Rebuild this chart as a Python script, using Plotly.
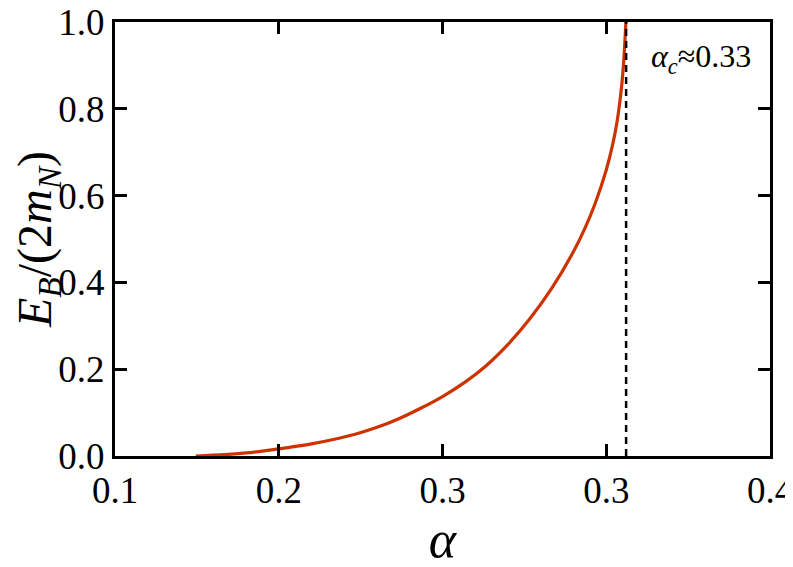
"""
结合能随耦合常数 alpha 的变化曲线
"""
import plotly.graph_objects as go

# 曲线数据
alpha = [0.137, 0.15, 0.16, 0.17, 0.18, 0.19, 0.20, 0.21, 0.22, 0.23,
         0.24, 0.25, 0.26, 0.27, 0.28, 0.29, 0.30, 0.31, 0.315, 0.32,
         0.325, 0.328, 0.330, 0.332, 0.333, 0.334]
eb = [0.0, 0.003, 0.007, 0.013, 0.020, 0.028, 0.038, 0.050, 0.066, 0.086,
      0.110, 0.137, 0.169, 0.208, 0.257, 0.316, 0.386, 0.471, 0.522, 0.583,
      0.659, 0.719, 0.772, 0.850, 0.910, 1.0]

# 临界值
alpha_c = 0.3341

# 刻度
x_tickvals = [0.1, 0.175, 0.25, 0.325, 0.4]
x_ticktext = ["0.1", "0.2", "0.3", "0.3", "0.4"]
y_tickvals = [0.0, 0.2, 0.4, 0.6, 0.8, 1.0]
y_ticktext = ["0.0", "0.2", "0.4", "0.6", "0.8", "1.0"]

SERIF = "Liberation Serif"

fig = go.Figure()

fig.add_trace(go.Scatter(
    x=alpha, y=eb, mode="lines",
    line=dict(color="#CC3300", width=3.2, shape="spline", smoothing=1.0),
    showlegend=False,
))

# 竖直虚线 alpha_c
fig.add_trace(go.Scatter(
    x=[alpha_c, alpha_c], y=[0, 1], mode="lines",
    line=dict(color="black", width=2.5, dash="7px,5px"),
    showlegend=False,
))

fig.add_annotation(
    x=0.974, y=0.917, xref="paper", yref="paper",
    xanchor="right", yanchor="middle", showarrow=False,
    text="<i>α<sub>c</sub></i>≈0.33",
    font=dict(family=SERIF, size=32, color="black"),
)

axis_style = dict(
    showline=True, linecolor="black", linewidth=3, mirror="ticks",
    ticks="inside", ticklen=12, tickwidth=3, tickcolor="black",
    showgrid=False, zeroline=False, automargin=False,
    ticklabeloverflow="allow",
    tickfont=dict(family=SERIF, size=37, color="black"),
)

# 页面有 8px 的边距，这里把绘图区往左上挪一点
fig.update_layout(
    width=793, height=567,
    template="plotly_white",
    plot_bgcolor="white", paper_bgcolor="white",
    font=dict(family=SERIF, color="black"),
    margin=dict(l=107, r=31, t=14, b=119),
    xaxis=dict(
        range=[0.1, 0.4], tickvals=x_tickvals, ticktext=x_ticktext,
        title=dict(text="<i>α</i>", font=dict(family=SERIF, size=52, color="black"),
                   standoff=4),
        **axis_style,
    ),
    yaxis=dict(
        range=[0, 1], tickvals=y_tickvals, ticktext=y_ticktext,
        title=dict(text="<i>E<sub>B</sub></i>/(2<i>m<sub>N</sub></i>)",
                   font=dict(family=SERIF, size=48, color="black"), standoff=12),
        **axis_style,
    ),
)

fig.write_html("out.html")
